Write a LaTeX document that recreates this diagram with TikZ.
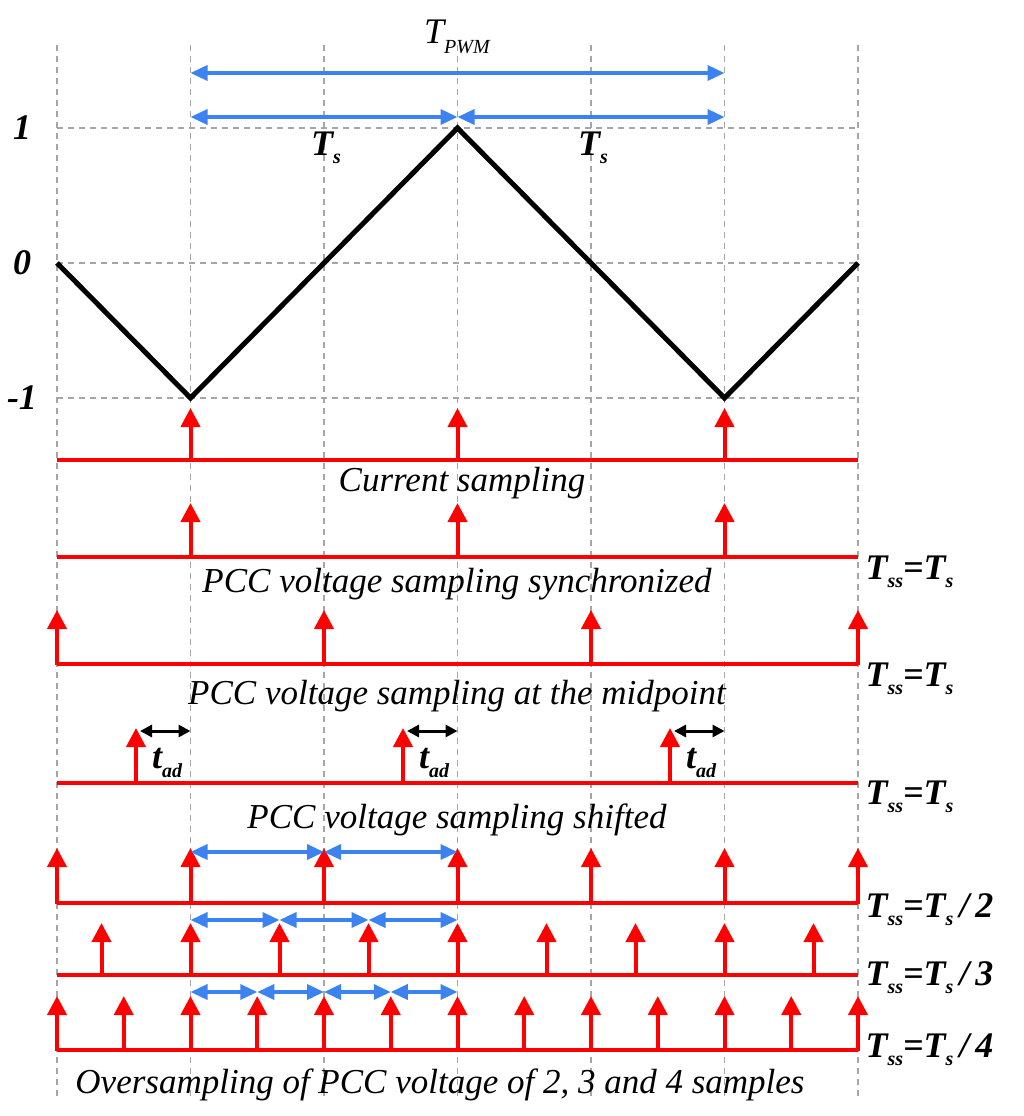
\documentclass[tikz,border=0pt]{standalone}
\usepackage{fontspec}
\setmainfont{Liberation Serif}
\usetikzlibrary{arrows.meta}
\definecolor{sred}{RGB}{255,0,0}
\definecolor{sblue}{RGB}{60,130,240}
\newcommand{\sbs}[1]{\raisebox{-0.5ex}{\fontsize{20}{20}\selectfont #1}}
\tikzset{
 grid/.style={gray!70,dashed,line width=1.2pt,dash pattern=on 6pt off 5pt},
 base/.style={sred,line width=3.5pt},
 samp/.style={sred,line width=4pt,-{Triangle[width=19pt,length=19pt]}},
 barr/.style={sblue,line width=3.5pt,{Triangle[width=15pt,length=17pt]}-{Triangle[width=15pt,length=17pt]}},
 karr/.style={black,line width=3pt,{Triangle[width=12pt,length=12pt]}-{Triangle[width=12pt,length=12pt]}},
 lab/.style={font=\itshape\fontsize{35}{35}\selectfont},
 blab/.style={font=\bfseries\itshape\fontsize{36}{36}\selectfont},
}
\begin{document}
\begin{tikzpicture}[x=1pt,y=-1pt]
\useasboundingbox (0,0) rectangle (1024,1116);
% grid
\foreach \x in {57,190.5,324,457.5,591,724.5,858} \draw[grid] (\x,45) -- (\x,1100);
\foreach \y in {128,263,398} \draw[grid] (57,\y) -- (858,\y);
\node[blab] (l1) at (22,128) {1};
\node[blab] (l0) at (22,263) {0};
\node[blab] (lm) at (22,398) {-1};
% carrier
\draw[line width=5pt,line join=miter] (57,263) -- (190.5,398) -- (457.5,128) -- (724.5,398) -- (858,263);
% top arrows
\node[font=\itshape\fontsize{36}{36}\selectfont] (tp) at (457,37) {T\raisebox{-0.6ex}{\fontsize{20}{20}\selectfont PWM}};
\coordinate (a0) at (190.5,73); \coordinate (a1) at (724.5,73);
\draw[barr] (a0) -- (a1);
\coordinate (b0) at (190.5,117); \coordinate (b1) at (457.5,117); \coordinate (b2) at (724.5,117);
\draw[barr] (b0) -- (b1); \draw[barr] (b1) -- (b2);
\node[blab] (ts1) at (326,148) {T\sbs{s}};
\node[blab] (ts2) at (593,148) {T\sbs{s}};
% row 1
\draw[base] (57,460) -- (858,460);
\foreach \x in {190.5,457.5,724.5} \draw[samp] (\x,460) -- (\x,408);
\node[lab] (c1) at (462,483) {Current sampling};
% row 2
\draw[base] (57,557) -- (858,557);
\foreach \x in {190.5,457.5,724.5} \draw[samp] (\x,557) -- (\x,503);
\node[blab,anchor=west] (t2) at (862,572) {T\sbs{ss}=T\sbs{s}};
\node[lab] (c2) at (457,584) {PCC voltage sampling synchronized};
% row 3
\draw[base] (57,664) -- (858,664);
\foreach \x in {57,324,591,858} \draw[samp] (\x,665) -- (\x,610);
\node[blab,anchor=west] (t3) at (862,679) {T\sbs{ss}=T\sbs{s}};
\node[lab] (c3) at (457,696) {PCC voltage sampling at the midpoint};
% row 4
\draw[base] (57,783) -- (858,783);
\foreach \x/\y in {136/190.5,403/457.5,670/724.5} {
 \draw[samp] (\x,783) -- (\x,728);
 \draw[karr] (\x+4,731) -- (\y,731);
 \node[blab] at (\x+31,763) {t\sbs{ad}};
}
\node[blab,anchor=west] (t4) at (862,797) {T\sbs{ss}=T\sbs{s}};
\node[lab] (c4) at (457,820) {PCC voltage sampling shifted};
% row 5
\draw[base] (57,903) -- (858,903);
\foreach \k in {0,...,6} \draw[samp] (57+133.5*\k,904) -- (57+133.5*\k,848);
\draw[barr] (190.5,852) -- (324,852); \draw[barr] (324,852) -- (457.5,852);
\node[blab,anchor=west] (t5) at (862,910) {T\sbs{ss}=T\sbs{s}\,/\,2};
% row 6
\draw[base] (57,975) -- (858,975);
\foreach \k in {-1,...,7} \draw[samp] (190.5+89*\k,976) -- (190.5+89*\k,923);
\foreach \k in {0,1,2} \draw[barr] (190.5+89*\k,920) -- (279.5+89*\k,920);
\node[blab,anchor=west] (t6) at (862,978) {T\sbs{ss}=T\sbs{s}\,/\,3};
\node[blab,anchor=west] (t7) at (862,1050) {T\sbs{ss}=T\sbs{s}\,/\,4};
% row 7
\draw[base] (57,1050) -- (858,1050);
\foreach \k in {0,...,12} \draw[samp] (57+66.75*\k,1051) -- (57+66.75*\k,996);
\foreach \k in {0,1,2,3} \draw[barr] (190.5+66.75*\k,992) -- (257.25+66.75*\k,992);
\node[lab] (c7) at (440,1085) {Oversampling of PCC voltage of 2, 3 and 4 samples};
\end{tikzpicture}
\end{document}
